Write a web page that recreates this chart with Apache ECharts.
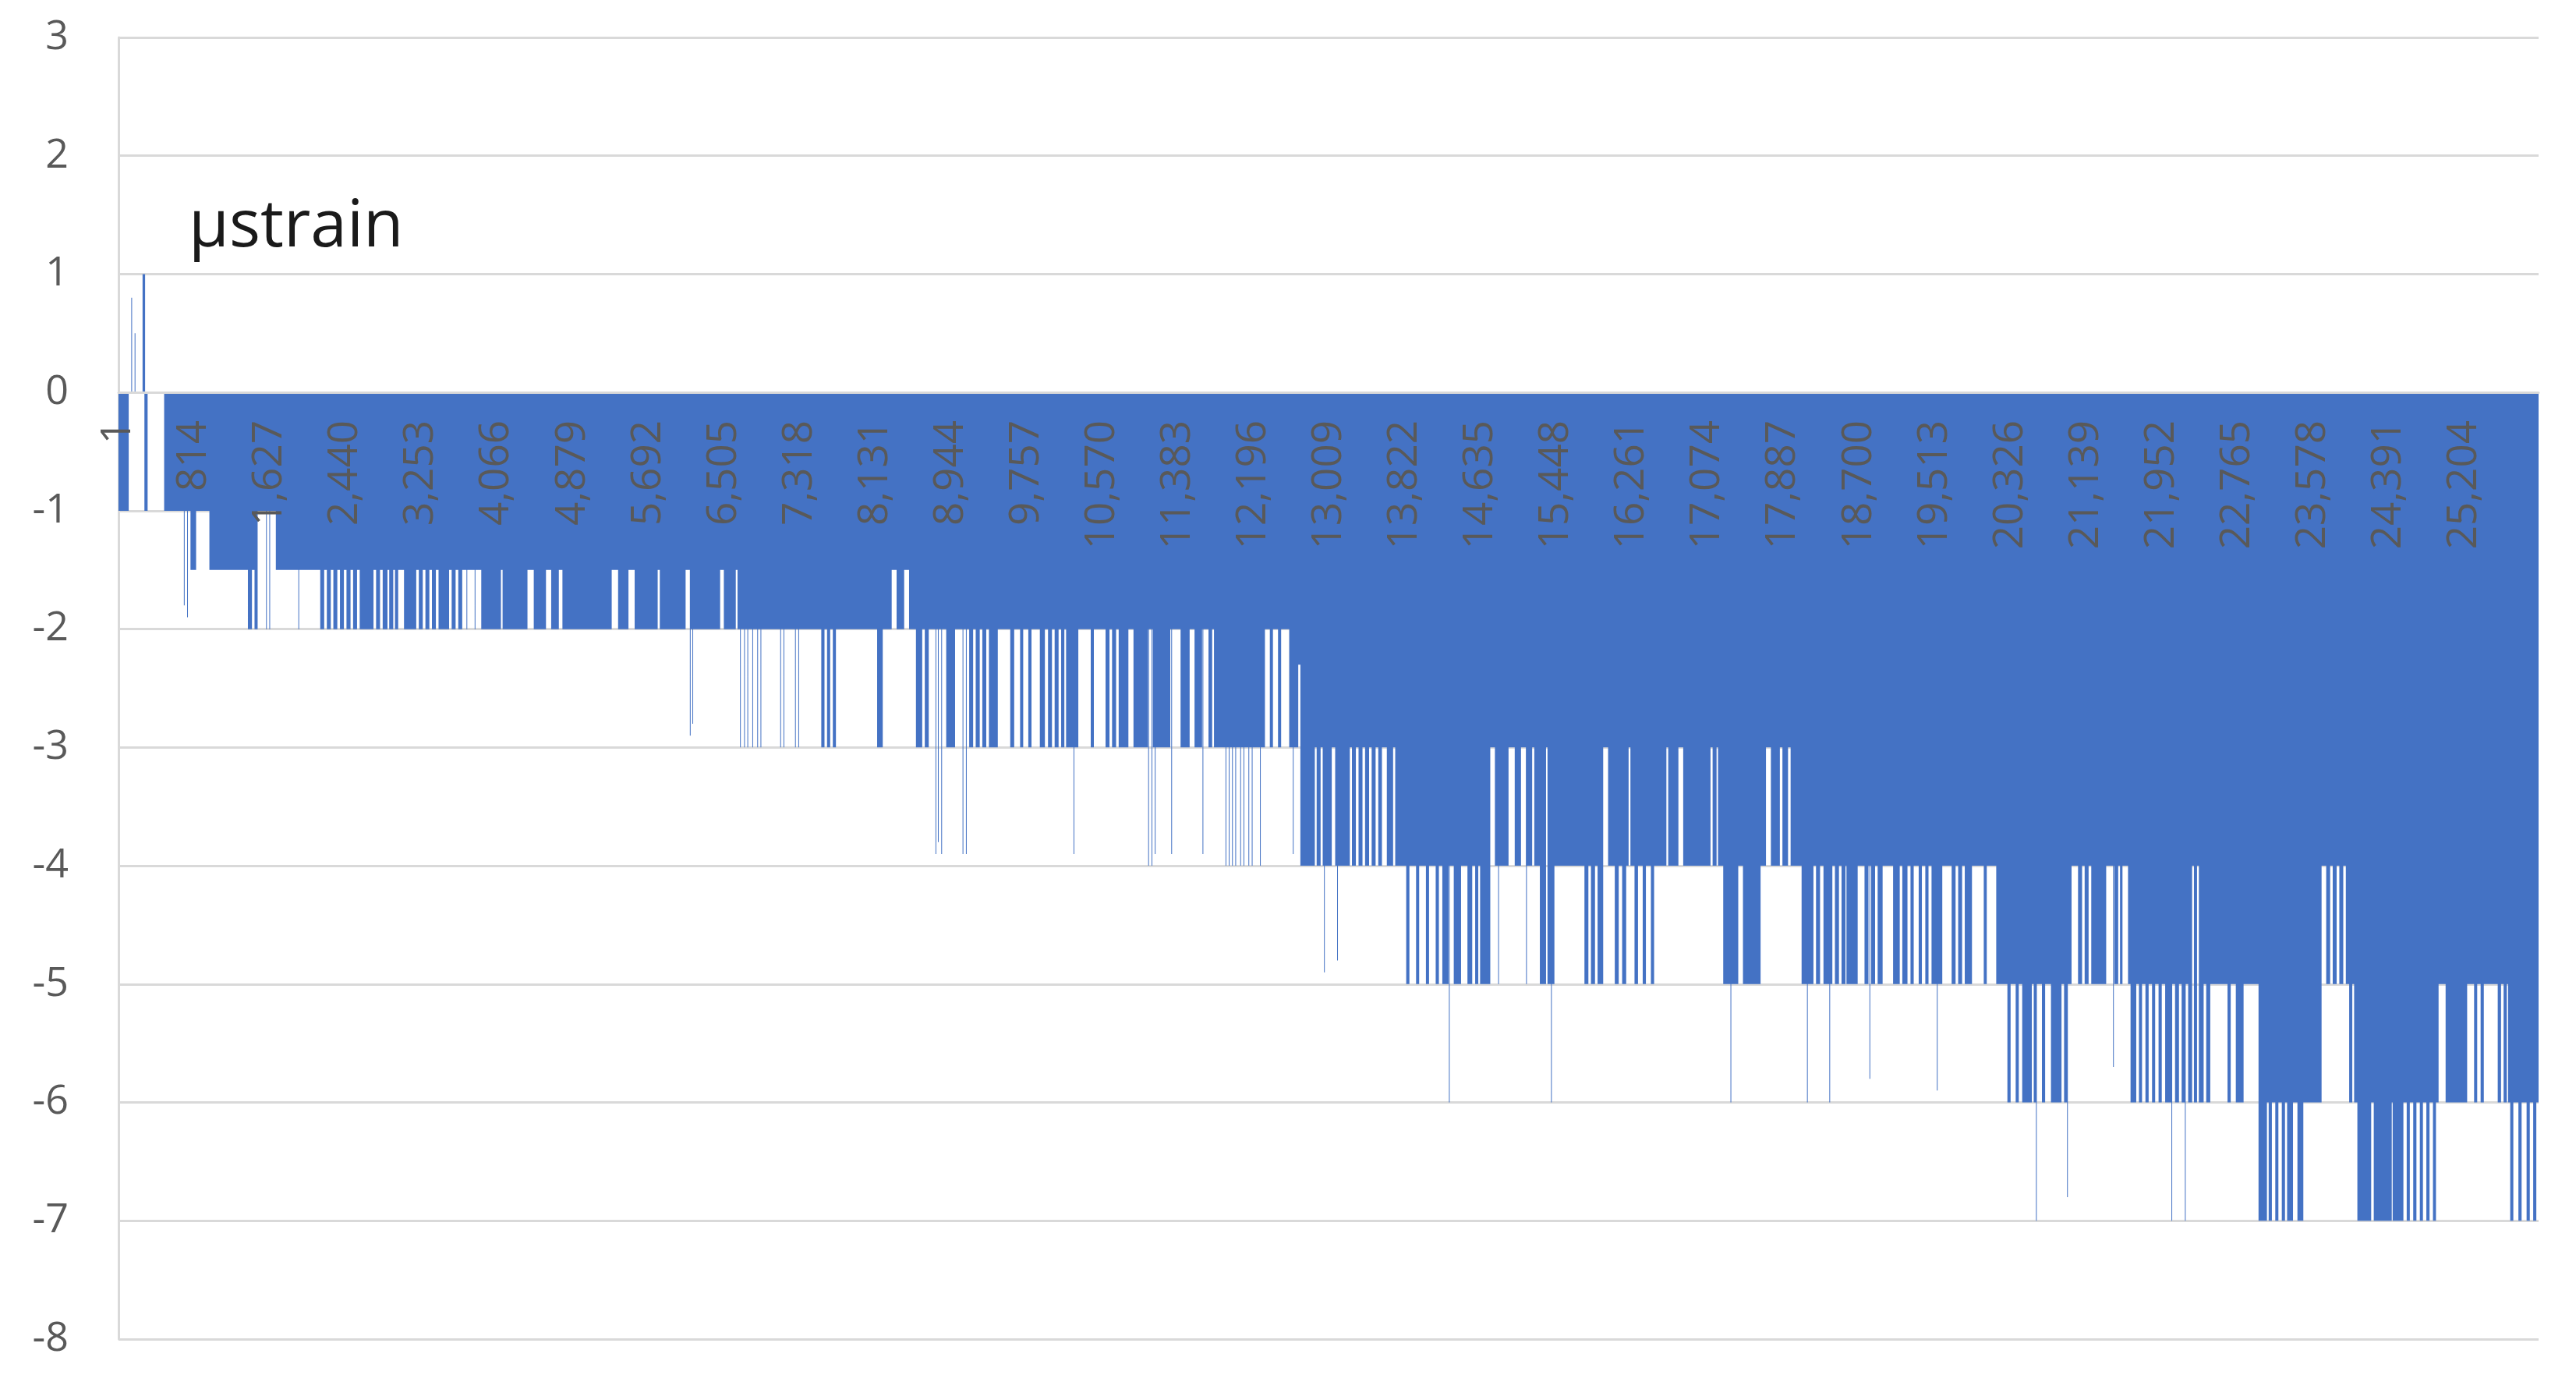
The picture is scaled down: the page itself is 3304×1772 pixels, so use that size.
<!DOCTYPE html>
<html>
<head>
<meta charset="utf-8">
<title>µstrain</title>
<script src="https://cdn.jsdelivr.net/npm/echarts/dist/echarts.min.js"></script>
<style>
  html, body { margin: 0; padding: 0; background: #fff; }
  #main { width: 3304px; height: 1772px; }
</style>
</head>
<body>
<div id="main"></div>
<script>
// number of samples on the category axis (labels 1, 814, 1627 ... 25204)
var sampleCount = 26000;
var labelEvery = 813;

// strain level: sample index where a level starts, and the level
var stepStart = [
  0, 106, 262, 282, 309, 494, 777, 830, 980, 1394, 1430, 1465, 1491, 1694,
  2171, 2206, 2242, 2277, 2312, 2347, 2383, 2418, 2453, 2489, 2524, 2559, 2595,
  2736, 2771, 2806, 2842, 2886, 2912, 2948, 2974, 3001, 3071,
  3195, 3230, 3265, 3301, 3336, 3371, 3406, 3442, 3548, 3583, 3618, 3654, 3689, 3901, 4105, 4130, 4390, 4465,
  4589, 4652, 4727, 4773, 5295, 5371, 5475, 5549, 5789, 5819, 6089, 6147, 6460, 6507, 6628, 6654,
  7554, 7581, 7616, 7642, 7678, 7704, 8154, 8207, 8303, 8363, 8437, 8497, 8571, 8631, 8666, 8701, 8896, 8984,
  9143, 9178, 9213, 9249, 9284, 9319, 9355, 9443, 9584, 9619, 9690, 9716, 9778, 9805, 9902, 9949, 9990,
  10025, 10061, 10096, 10131, 10158, 10184, 10308, 10449, 10475, 10608, 10643, 10678, 10714, 10749, 10846, 10908,
  11056, 11116, 11296, 11414, 11504, 11564, 11638, 11714, 11746, 11773, 12313, 12373, 12399, 12461, 12487, 12581, 12671, 12701,
  12849, 12876, 12911, 12941, 13031, 13075, 13225, 13255, 13290, 13326, 13361, 13396, 13432, 13467, 13502, 13538, 13570, 13630, 13690, 13720,
  13838, 13865, 13944, 13970, 14050, 14076, 14155, 14182, 14226, 14286, 14349, 14420, 14496, 14540, 14579, 14605, 14632,
  14734, 14791, 14930, 15004, 15064, 15124, 15184, 15214, 15274, 15333, 15356, 15423,
  15753, 15788, 15823, 15859, 15894, 15947, 16007, 16079, 16114, 16158, 16194, 16220, 16247, 16291, 16321, 16379, 16406, 16467, 16494,
  16626, 16653, 16755, 16814, 17100, 17130, 17165, 17188, 17244, 17398, 17456, 17638, 17696, 17756, 17845, 17880, 17933, 17968, 18086, 18206, 18241, 18277, 18321,
  18409, 18444, 18480, 18515, 18550, 18568, 18681, 18762, 18797, 18833, 18868, 18903, 18949, 19069, 19133, 19168, 19216,
  19256, 19283, 19344, 19371, 19415, 19442, 19482, 19590, 19698, 19733, 19768, 19803, 19839, 19909, 20043, 20068, 20177,
  20297, 20324, 20386, 20412, 20456, 20552, 20580, 20606, 20668, 20695, 20765, 20871, 20906, 20933,
  20979, 21056, 21092, 21127, 21162, 21198, 21351, 21445, 21480, 21507, 21526, 21593,
  21620, 21674, 21710, 21736, 21780, 21807, 21851, 21877, 21921, 21948, 21992, 22059, 22098, 22133, 22169, 22204, 22239,
  22274, 22301, 22327, 22354, 22398, 22433, 22469,
  22662, 22689, 22751, 22827, 22995, 23078, 23104, 23131, 23175, 23201, 23245, 23272, 23302, 23358, 23413, 23469,
  23665, 23722, 23757, 23792, 23827, 23863, 23898, 23933, 23969, 23995, 24022, 24057, 24198, 24233, 24419, 24436,
  24544, 24587, 24613, 24657, 24684, 24728, 24754, 24798, 24825, 24869, 24894, 24922, 25005,
  25229, 25311, 25337, 25381, 25408, 25565, 25593, 25628, 25655, 25676, 25699, 25725, 25787, 25814, 25875, 25902, 25946, 25972
];
var stepValue = [
  -1, 0, 1, -1, 0, -1, -1.5, -1, -1.5, -2, -1.5, -2, -1, -1.5,
  -2, -1.5, -2, -1.5, -2, -1.5, -2, -1.5, -2, -1.5, -2, -1.5, -2,
  -1.5, -2, -1.5, -2, -1.5, -2, -1.5, -2, -1.5, -2,
  -1.5, -2, -1.5, -2, -1.5, -2, -1.5, -2, -1.5, -2, -1.5, -2, -1.5, -2, -1.5, -2, -1.5, -2,
  -1.5, -2, -1.5, -2, -1.5, -2, -1.5, -2, -1.5, -2, -1.5, -2, -1.5, -2, -1.5, -2,
  -3, -2, -3, -2, -3, -2, -3, -2, -1.5, -2, -1.5, -2, -3, -2, -3, -2, -3, -2,
  -3, -2, -3, -2, -3, -2, -3, -2, -3, -2, -3, -2, -3, -2, -3, -2, -3,
  -2, -3, -2, -3, -2, -3, -2, -3, -2, -3, -2, -3, -2, -3, -2, -3,
  -2, -3, -2, -3, -2, -3, -2, -3, -2, -3, -2, -3, -2, -3, -2, -3, -2.3, -4,
  -3, -4, -3, -4, -3, -4, -3, -4, -3, -4, -3, -4, -3, -4, -3, -4, -3, -4, -3, -4,
  -5, -4, -5, -4, -5, -4, -5, -4, -5, -4, -5, -4, -5, -4, -5, -4, -5,
  -3, -4, -3, -4, -3, -4, -3, -4, -5, -3, -5, -4,
  -5, -4, -5, -4, -5, -3, -4, -5, -4, -5, -4, -3, -4, -5, -4, -5, -4, -5, -4,
  -3, -4, -3, -4, -3, -4, -3, -4, -5, -4, -5, -4, -3, -4, -3, -4, -3, -4, -5, -4, -5, -4, -5,
  -4, -5, -4, -5, -4, -5, -4, -5, -4, -5, -4, -5, -4, -5, -4, -5, -4,
  -5, -4, -5, -4, -5, -4, -5, -4, -5, -4, -5, -4, -5, -4, -5, -4, -5,
  -6, -5, -6, -5, -6, -5, -6, -5, -6, -5, -6, -5, -6, -5,
  -4, -5, -4, -5, -4, -5, -4, -5, -4, -5, -4, -5,
  -6, -5, -6, -5, -6, -5, -6, -5, -6, -5, -6, -5, -6, -5, -6, -5, -6,
  -4, -6, -4, -6, -5, -6, -5,
  -6, -5, -6, -5, -7, -6, -7, -6, -7, -6, -7, -6, -7, -6, -7, -6,
  -4, -5, -4, -5, -4, -5, -4, -5, -6, -5, -6, -7, -6, -7, -6, -7,
  -6, -7, -6, -7, -6, -7, -6, -7, -6, -7, -6, -5, -6,
  -5, -6, -5, -6, -5, -6, -5, -6, -5, -6, -7, -6, -7, -6, -7, -6, -7, -6
];

// single samples that stick out of their neighbours
var spikeIndex = [
  141, 177, 706, 741, 1589, 1624, 1936, 3742, 3830, 6142, 6169,
  6681, 6725, 6760, 6813, 6866, 6901, 7113, 7148, 7272, 7307,
  8781, 8807, 8843, 9072, 9108, 10264, 11066, 11102, 11137, 11314, 11650,
  11897, 11932, 11967, 12002, 12055, 12090, 12143, 12179, 12267, 12620,
  12955, 13096, 13590, 13873, 14297, 14826, 15126, 15394, 15523,
  16918, 17322, 18144, 18384, 18815, 18974, 19539, 19963,
  20604, 20938, 21032, 21432, 22059, 22204, 22539, 22768, 22840, 22875
];
var spikeValue = [
  0.8, 0.5, -1.8, -1.9, -2, -2, -2, -2, -2, -2.9, -2.8,
  -3, -3, -3, -3, -3, -3, -3, -3, -3, -3,
  -3.9, -3.8, -3.9, -3.9, -3.9, -3.9, -4, -4, -3.9, -3.9, -3.9,
  -4, -4, -4, -4, -4, -4, -4, -4, -4, -3.9,
  -4.9, -4.8, -2.2, -3.3, -6, -5, -5, -6, -3.2,
  -2.4, -6, -6, -6, -5.8, -2.8, -5.9, -2.3,
  -7, -6.8, -3.5, -5.7, -7, -7, -4, -4, -4, -4
];

// expand the steps into one value per sample
var values = [];
var k = 0;
for (var i = 0; i < sampleCount; i++) {
  while (k + 1 < stepStart.length && stepStart[k + 1] <= i) k++;
  values.push(stepValue[k]);
}
for (var j = 0; j < spikeIndex.length; j++) {
  values[spikeIndex[j]] = spikeValue[j];
}

var categories = [];
for (var c = 1; c <= sampleCount; c++) categories.push(c);

var chart = echarts.init(document.getElementById('main'));
chart.setOption({
  animation: false,
  backgroundColor: '#ffffff',
  textStyle: { fontFamily: 'Open Sans' },
  grid: { left: 152, right: 48, top: 48, bottom: 55, outerBoundsMode: 'none' },
  xAxis: {
    type: 'category',
    data: categories,
    z: 10,
    // the category axis sits on the zero line, labels hang into the bars
    offset: -1214,
    axisLine: { onZero: false, lineStyle: { color: '#d9d9d9', width: 3 } },
    axisTick: { show: false },
    axisLabel: {
      interval: labelEvery - 1,
      rotate: 90,
      margin: 36,
      fontSize: 53,
      color: '#595959',
      fontFamily: 'Open Sans',
      formatter: function (v) { return Number(v).toLocaleString('en-US'); }
    },
    splitLine: { show: false }
  },
  yAxis: {
    type: 'value',
    min: -8,
    max: 3,
    interval: 1,
    axisLine: { show: true, lineStyle: { color: '#d9d9d9', width: 3 } },
    axisTick: { show: false },
    axisLabel: { fontSize: 52, color: '#595959', margin: 64, fontFamily: 'Open Sans' },
    splitLine: { lineStyle: { color: '#d9d9d9', width: 3 } }
  },
  series: [{
    type: 'bar',
    data: values,
    large: true,
    largeThreshold: 400,
    progressive: 0,
    progressiveThreshold: 1000000,
    barCategoryGap: '0%',
    barMinWidth: 1,
    silent: true,
    itemStyle: { color: '#4472C4' }
  }],
  graphic: [{
    type: 'text',
    x: 242,
    y: 292,
    style: {
      text: 'µstrain',
      font: '84px "Open Sans"',
      fill: '#1a1a1a',
      verticalAlign: 'middle'
    }
  }]
});
</script>
</body>
</html>
